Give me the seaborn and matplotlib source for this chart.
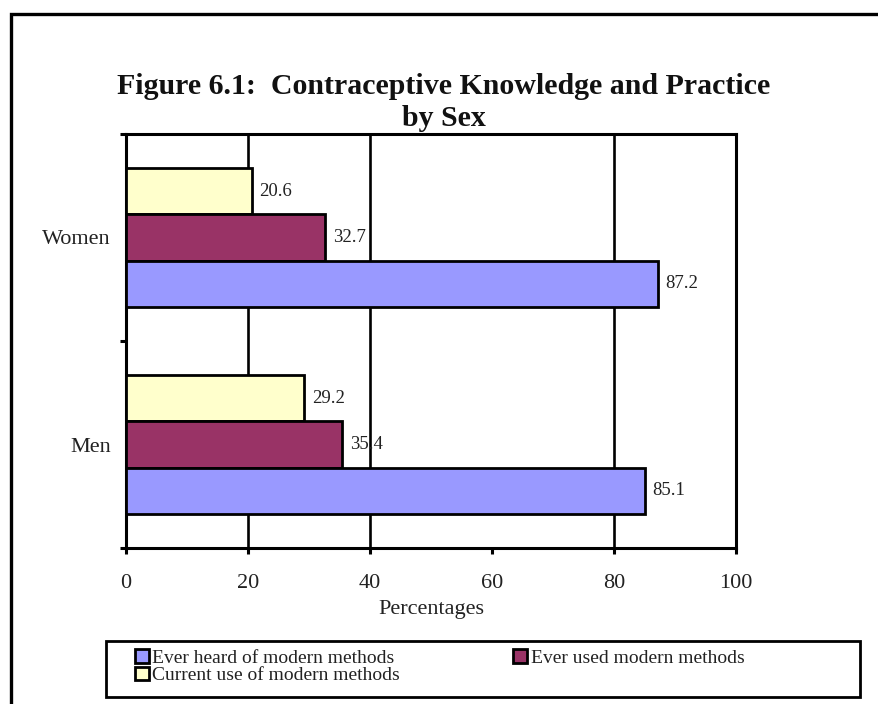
import matplotlib
matplotlib.use("Agg")
import matplotlib.pyplot as plt
from matplotlib.patches import Rectangle, Patch
import seaborn as sns
import pandas as pd

# Survey results by sex (percent)
groups = ["Women", "Men"]
ever_heard = [87.2, 85.1]
ever_used = [32.7, 35.4]
current_use = [20.6, 29.2]

series_names = [
    "Current use of modern methods",
    "Ever used modern methods",
    "Ever heard of modern methods",
]
series_values = [current_use, ever_used, ever_heard]
series_colors = ["#FFFFCC", "#993366", "#9999FF"]

x_ticks = [0, 20, 40, 60, 80, 100]

rows = []
for name, vals in zip(series_names, series_values):
    for g, v in zip(groups, vals):
        rows.append({"group": g, "series": name, "value": v})
df = pd.DataFrame(rows)

sns.set_theme(style="white")
plt.rcParams["font.family"] = ["Liberation Serif", "DejaVu Serif"]

W, H = 879, 704
fig = plt.figure(figsize=(W / 100, H / 100), dpi=100)
fig.patch.set_facecolor("white")

ax = fig.add_axes([126 / W, 1 - 548 / H, (736 - 126) / W, (548 - 134) / H])

sns.barplot(
    data=df, x="value", y="group", hue="series",
    order=groups, hue_order=series_names,
    palette=series_colors, orient="h",
    width=0.667, edgecolor="black", linewidth=2.0,
    saturation=1, errorbar=None, legend=False, ax=ax, zorder=3,
)

for cont in ax.containers:
    ax.bar_label(cont, fmt="%.1f", padding=5.5, fontsize=13.5, color="#222222")

ax.set_xlim(0, 100)
ax.set_ylim(1.5, -0.5)
ax.set_xticks(x_ticks)
ax.set_xticklabels([str(t) for t in x_ticks])
ax.set_xlabel("Percentages", fontsize=16, labelpad=5, color="#222222")
ax.set_ylabel("")

# vertical gridlines
ax.grid(axis="x", color="black", linewidth=1.9, zorder=0)
ax.grid(axis="y", visible=False)
for t, gl in zip(ax.get_xticks(), ax.get_xgridlines()):
    if t in (0, 60, 100):
        gl.set_visible(False)

for s in ax.spines.values():
    s.set_visible(True)
    s.set_color("black")
    s.set_linewidth(2.2)

ax.tick_params(axis="x", direction="out", length=4, width=2.2, color="black",
               pad=15, labelsize=16, labelcolor="#222222", bottom=True)
ax.tick_params(axis="y", which="major", length=0, pad=11, labelsize=16,
               labelcolor="#222222", left=True)
ax.set_yticks([-0.5, 0.5, 1.5], minor=True)
ax.tick_params(axis="y", which="minor", direction="out", length=4, width=2.2,
               color="black", left=True)

# title
fig.text(444 / W, 1 - 86 / H, "Figure 6.1:  Contraceptive Knowledge and Practice",
         ha="center", va="center", fontsize=21.5, fontweight="bold", color="#111111")
fig.text(444 / W, 1 - 119 / H, "by Sex",
         ha="center", va="center", fontsize=21.5, fontweight="bold", color="#111111")

# legend
handle_map = {n: Patch(facecolor=c, edgecolor="black", linewidth=2.0)
              for n, c in zip(series_names, series_colors)}
leg_order = [
    "Ever heard of modern methods",
    "Current use of modern methods",
    "Ever used modern methods",
]
fig.legend(
    [handle_map[n] for n in leg_order], leg_order,
    loc="upper left", bbox_to_anchor=(135 / W, 1 - 649 / H),
    bbox_transform=fig.transFigure, ncol=2, frameon=False,
    fontsize=14, handlelength=0.7, handleheight=0.7, handletextpad=0.2,
    labelspacing=0.0, columnspacing=5.8, borderpad=0, borderaxespad=0,
    labelcolor="#222222",
)
fig.add_artist(Rectangle((106 / W, 1 - 697 / H), (860 - 106) / W, 56 / H,
                         transform=fig.transFigure, fill=False,
                         edgecolor="black", linewidth=2.0))

# outer frame
fig.add_artist(Rectangle((11 / W, -0.1), 1.2, (H - 14) / H + 0.1,
                         transform=fig.transFigure, fill=False,
                         edgecolor="black", linewidth=2.4))

fig.savefig("out.png", dpi=100)
